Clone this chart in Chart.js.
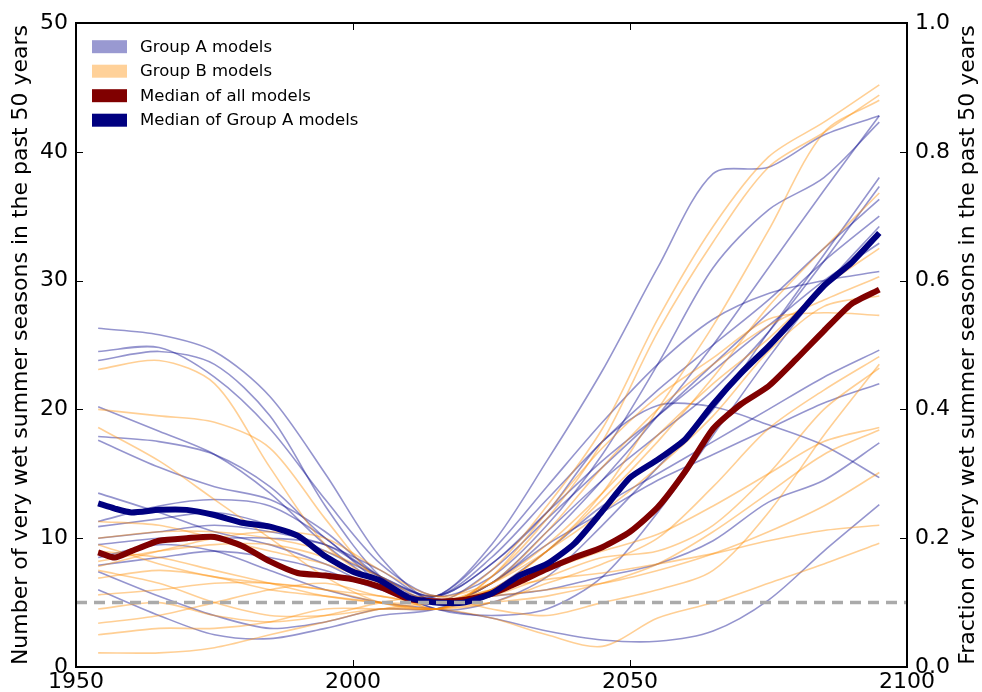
<!DOCTYPE html>
<html>
<head>
<meta charset="utf-8">
<script src="https://cdn.jsdelivr.net/npm/chart.js@4/dist/chart.umd.min.js"></script>
<style>
  html, body { margin: 0; padding: 0; background: #fff; }
</style>
</head>
<body>
<canvas id="wetChart" width="982" height="692"></canvas>
<script>
// sample years for the individual model curves
const modelYears = [1954, 1965, 1975, 1985, 1995, 2005, 2015, 2025, 2035, 2045, 2055, 2065, 2075, 2085, 2095];

// Group A models (one list per model, values at modelYears)
const groupAModels = [
  [20.2, 18.3, 16.5, 13.5, 9.5, 6.5, 5.5, 9.5, 16.0, 23.0, 31.0, 38.3, 38.8, 41.3, 42.8],
  [24.5, 24.8, 22.5, 18.5, 13.0, 8.0, 5.5, 7.0, 11.0, 16.5, 23.5, 31.0, 35.5, 38.0, 42.3],
  [26.3, 25.8, 24.5, 21.0, 15.0, 8.5, 5.0, 6.5, 10.0, 14.5, 19.5, 25.0, 31.0, 37.0, 42.8],
  [23.8, 24.5, 23.5, 19.5, 12.5, 7.0, 4.5, 5.0, 7.0, 11.0, 15.5, 20.0, 26.0, 32.0, 38.0],
  [17.9, 17.5, 16.5, 14.0, 10.0, 7.0, 5.0, 6.5, 10.5, 14.5, 18.0, 21.5, 26.0, 31.5, 37.3],
  [17.6, 15.5, 14.0, 13.0, 10.5, 7.0, 5.5, 8.5, 13.0, 17.5, 21.5, 25.0, 28.5, 32.5, 36.3],
  [13.5, 12.0, 10.5, 9.5, 8.0, 6.0, 5.0, 7.5, 11.5, 15.5, 19.5, 23.5, 27.5, 31.5, 35.0],
  [11.3, 12.5, 13.0, 12.5, 10.0, 6.5, 4.5, 4.0, 4.5, 7.0, 12.0, 18.0, 24.0, 29.5, 34.2],
  [10.9, 11.5, 12.0, 11.0, 9.0, 7.0, 5.5, 8.0, 12.0, 16.0, 19.5, 23.0, 26.5, 30.0, 32.9],
  [7.9, 8.5, 9.0, 8.5, 7.5, 6.0, 5.5, 9.0, 14.0, 19.0, 23.5, 27.0, 29.0, 30.0, 30.7],
  [7.4, 5.5, 4.0, 3.0, 3.5, 4.5, 4.5, 6.0, 9.0, 12.5, 15.0, 17.5, 20.0, 22.5, 24.6],
  [6.0, 4.0, 2.5, 2.2, 3.0, 4.0, 4.5, 6.5, 9.5, 12.0, 14.5, 16.5, 18.5, 20.5, 22.0],
  [10.0, 10.5, 11.0, 10.5, 9.5, 7.5, 5.0, 5.5, 6.0, 7.0, 8.0, 9.8, 12.8, 14.5, 17.4],
  [9.5, 10.0, 10.0, 10.0, 9.5, 7.0, 5.5, 8.0, 12.0, 17.5, 20.3, 20.2, 18.8, 17.2, 14.7],
  [8.5, 9.5, 9.0, 7.5, 6.0, 5.0, 4.5, 3.8, 2.8, 2.1, 2.0, 2.8, 5.2, 9.0, 12.6]
];

// Group B models
const groupBModels = [
  [23.1, 23.8, 22.0, 15.5, 9.5, 6.5, 5.0, 7.5, 12.5, 18.5, 27.0, 34.2, 39.6, 42.3, 45.2],
  [20.0, 19.5, 19.0, 17.0, 11.5, 6.5, 4.5, 7.0, 11.5, 17.5, 26.0, 33.0, 38.8, 41.5, 44.4],
  [18.6, 16.0, 13.0, 10.0, 7.0, 5.0, 4.5, 6.0, 9.0, 13.5, 20.0, 26.5, 33.9, 41.5, 44.0],
  [11.3, 11.0, 10.0, 9.0, 8.0, 6.5, 5.0, 6.0, 9.0, 13.0, 17.5, 22.5, 28.0, 32.5, 36.8],
  [10.0, 10.5, 10.5, 10.0, 9.0, 7.0, 5.0, 6.5, 10.5, 15.5, 20.0, 23.5, 26.5, 28.5, 30.3],
  [8.2, 9.0, 9.5, 9.5, 8.5, 6.5, 4.5, 7.0, 12.0, 17.0, 21.0, 24.0, 27.0, 27.5, 27.3],
  [6.9, 7.5, 7.0, 6.0, 5.5, 5.0, 4.5, 5.0, 6.5, 8.0, 10.0, 14.0, 18.5, 21.5, 24.1],
  [5.6, 6.0, 6.5, 6.5, 6.0, 5.0, 4.5, 5.5, 7.0, 8.5, 9.0, 11.0, 15.0, 20.0, 23.2],
  [3.4, 4.0, 5.0, 6.0, 6.5, 5.5, 5.0, 6.0, 7.5, 9.0, 10.3, 12.5, 15.0, 17.5, 18.6],
  [2.5, 3.0, 3.0, 3.5, 4.5, 4.5, 4.5, 5.0, 5.5, 6.5, 8.0, 10.5, 13.5, 16.5, 18.4],
  [1.1, 1.1, 1.5, 2.5, 3.5, 4.5, 5.0, 5.5, 6.0, 6.5, 7.5, 8.8, 10.5, 12.5, 15.1],
  [9.0, 8.5, 7.5, 6.5, 5.5, 5.0, 5.0, 6.0, 6.8, 7.3, 8.0, 8.8, 9.8, 10.6, 11.0],
  [7.5, 6.5, 5.0, 4.0, 4.0, 4.5, 4.5, 3.8, 2.5, 1.6, 3.8, 5.0, 6.5, 8.0, 9.6],
  [4.5, 5.0, 4.0, 3.5, 4.0, 5.0, 5.5, 4.5, 4.0, 5.0, 6.0, 7.5, 12.0, 18.0, 23.5],
  [7.8, 9.0, 10.0, 10.5, 10.0, 7.5, 5.5, 6.5, 9.0, 12.0, 15.5, 19.5, 24.5, 28.0, 28.8],
  [9.5, 8.0, 7.0, 6.5, 6.0, 5.5, 5.0, 6.5, 9.5, 13.5, 18.0, 22.0, 25.5, 29.5, 32.5]
];

// medians
const medianYears = [1954, 1957, 1960, 1965, 1970, 1975, 1980, 1985, 1990, 1995, 2000, 2005, 2010, 2015, 2020,
                     2025, 2030, 2035, 2040, 2045, 2050, 2055, 2060, 2065, 2070, 2075, 2080, 2085, 2090, 2095];
const medianAll = [8.9, 8.5, 9.0, 9.8, 10.0, 10.1, 9.4, 8.2, 7.3, 7.1, 6.8, 6.2, 5.3, 5.1, 5.2,
                   5.7, 6.6, 7.6, 8.5, 9.3, 10.5, 12.4, 15.2, 18.5, 20.4, 21.8, 23.9, 26.1, 28.2, 29.3];
const medianGroupA = [12.7, 12.3, 12.0, 12.2, 12.2, 11.8, 11.2, 10.9, 10.2, 8.6, 7.4, 6.7, 5.4, 5.0, 5.0,
                      5.7, 7.1, 8.0, 9.6, 12.1, 14.7, 16.1, 17.7, 20.4, 22.8, 24.9, 27.2, 29.6, 31.4, 33.7];

const thresholdValue = 5;
const xRange = [1950, 2100];

const colorA = 'rgba(0, 0, 139, 0.42)';
const colorB = 'rgba(255, 140, 0, 0.42)';
const legendItems = [
  { text: 'Group A models', color: 'rgba(0, 0, 139, 0.4)' },
  { text: 'Group B models', color: 'rgba(255, 140, 0, 0.4)' },
  { text: 'Median of all models', color: '#800000' },
  { text: 'Median of Group A models', color: '#000080' }
];

Chart.defaults.font.family = "'DejaVu Sans', sans-serif";
Chart.defaults.color = '#000';

function toPoints(xs, ys) {
  return xs.map((x, i) => ({ x: x, y: ys[i] }));
}

const datasets = [];
datasets.push({
  label: 'threshold',
  data: toPoints(xRange, [thresholdValue, thresholdValue]),
  borderColor: '#aaaaaa',
  borderWidth: 3.5,
  borderDash: [11, 7],
  tension: 0,
  order: 0
});
datasets.push({
  label: 'Median of Group A models',
  data: toPoints(medianYears, medianGroupA),
  borderColor: '#000080',
  borderWidth: 6,
  tension: 0.2,
  order: 1
});
datasets.push({
  label: 'Median of all models',
  data: toPoints(medianYears, medianAll),
  borderColor: '#800000',
  borderWidth: 6,
  tension: 0.2,
  order: 2
});
groupBModels.forEach((vals, i) => {
  datasets.push({
    label: 'B' + i,
    data: toPoints(modelYears, vals),
    borderColor: colorB,
    borderWidth: 1.6,
    order: 3
  });
});
groupAModels.forEach((vals, i) => {
  datasets.push({
    label: 'A' + i,
    data: toPoints(modelYears, vals),
    borderColor: colorA,
    borderWidth: 1.6,
    order: 4
  });
});

// frame, inward ticks, axis titles and legend drawn over the plot
const decorations = {
  id: 'decorations',
  afterDraw(chart) {
    const { ctx, chartArea: a, scales } = chart;
    ctx.save();
    ctx.strokeStyle = '#000';
    ctx.lineWidth = 1;
    ctx.beginPath();
    scales.x.ticks.forEach(t => {
      const px = Math.round(scales.x.getPixelForValue(t.value)) + 0.5;
      ctx.moveTo(px, a.bottom); ctx.lineTo(px, a.bottom - 7);
      ctx.moveTo(px, a.top); ctx.lineTo(px, a.top + 7);
    });
    scales.y.ticks.forEach(t => {
      const py = Math.round(scales.y.getPixelForValue(t.value)) + 0.5;
      ctx.moveTo(a.left, py); ctx.lineTo(a.left + 7, py);
    });
    scales.y2.ticks.forEach(t => {
      const py = Math.round(scales.y2.getPixelForValue(t.value)) + 0.5;
      ctx.moveTo(a.right, py); ctx.lineTo(a.right - 7, py);
    });
    ctx.stroke();
    ctx.lineWidth = 2;
    ctx.strokeRect(a.left, a.top, a.right - a.left, a.bottom - a.top);

    // axis titles, both read bottom-to-top
    const midY = (a.top + a.bottom) / 2;
    ctx.fillStyle = '#000';
    ctx.font = "22px 'DejaVu Sans'";
    ctx.textAlign = 'center';
    ctx.textBaseline = 'middle';
    ctx.save();
    ctx.translate(21, midY);
    ctx.rotate(-Math.PI / 2);
    ctx.fillText('Number of very wet summer seasons in the past 50 years', 0, 0);
    ctx.restore();
    ctx.save();
    ctx.translate(968, midY);
    ctx.rotate(-Math.PI / 2);
    ctx.fillText('Fraction of very wet summer seasons in the past 50 years', 0, 0);
    ctx.restore();

    // legend
    ctx.font = "16.5px 'DejaVu Sans'";
    ctx.textAlign = 'left';
    legendItems.forEach((item, i) => {
      const cy = a.top + 23.7 + i * 24.5;
      ctx.fillStyle = item.color;
      ctx.fillRect(a.left + 16, cy - 6.5, 35, 13);
      ctx.fillStyle = '#000';
      ctx.fillText(item.text, a.left + 64, cy + 1);
    });
    ctx.restore();
  }
};

const ctx = document.querySelector('#wetChart').getContext('2d');
const wetChart = new Chart(ctx, {
  type: 'line',
  data: { datasets: datasets },
  options: {
    responsive: false,
    animation: false,
    devicePixelRatio: 1,
    layout: { padding: { top: 23, left: 0, right: 0, bottom: 0 } },
    elements: {
      point: { radius: 0 },
      line: { tension: 0.3, fill: false }
    },
    plugins: {
      legend: { display: false },
      tooltip: { enabled: false }
    },
    scales: {
      x: {
        type: 'linear',
        min: xRange[0],
        max: xRange[1],
        grid: { display: false, drawTicks: false },
        border: { display: false },
        ticks: {
          stepSize: 50,
          autoSkip: false,
          maxRotation: 0,
          padding: 2,
          font: { size: 22 },
          callback: v => String(v)
        },
        afterFit: s => { s.height = 25; }
      },
      y: {
        position: 'left',
        min: 0,
        max: 50,
        grid: { display: false, drawTicks: false },
        border: { display: false },
        ticks: { stepSize: 10, padding: 8, font: { size: 22 } },
        afterFit: s => { s.width = 76; }
      },
      y2: {
        position: 'right',
        min: 0,
        max: 1,
        grid: { display: false, drawTicks: false },
        border: { display: false },
        ticks: { stepSize: 0.2, padding: 8, font: { size: 22 }, callback: v => v.toFixed(1) },
        afterFit: s => { s.width = 75; }
      }
    }
  },
  plugins: [decorations]
});
</script>
</body>
</html>
